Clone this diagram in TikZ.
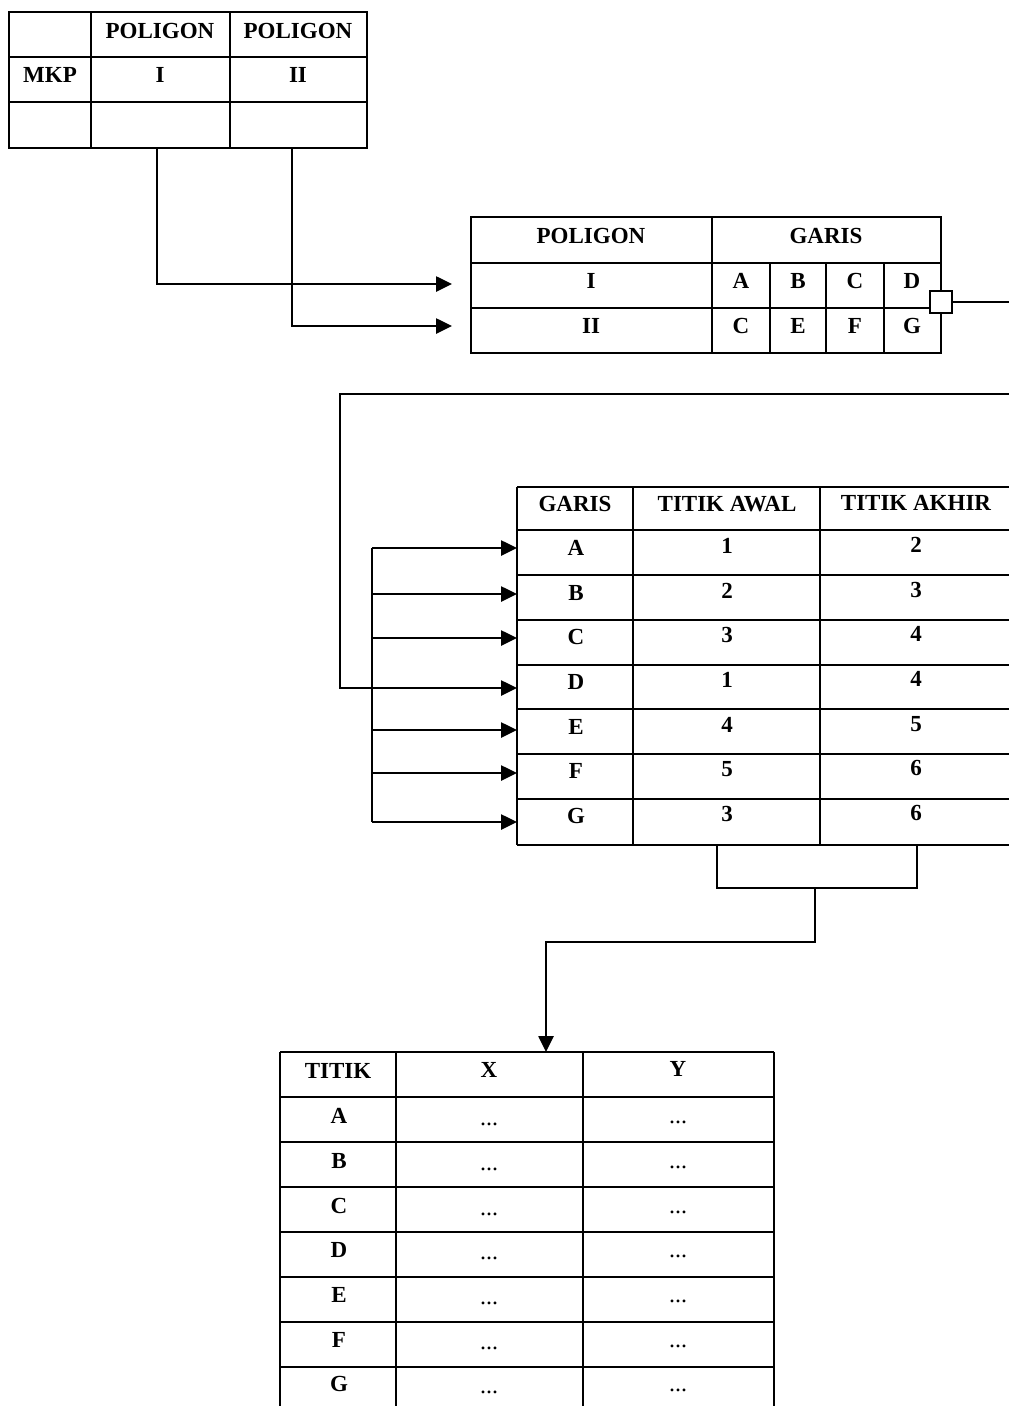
\documentclass[tikz,border=0pt]{standalone}
\usepackage{fontspec}
\setmainfont{Liberation Serif}
\usetikzlibrary{arrows.meta}
\begin{document}
\begin{tikzpicture}[x=1pt,y=-1pt,
  grid/.style={line width=2pt},
  conn/.style={line width=2.6pt},
  tip/.style={conn,-{Triangle[length=16pt,width=15pt]}},
  lbl/.style={font=\fontsize{23}{25}\selectfont\bfseries, inner sep=0pt},
  dots/.style={font=\fontsize{24}{26}\selectfont, inner sep=0pt}]
\useasboundingbox (0,0) rectangle (1009,1406);

% ---------- Table 1 ----------
\draw[grid] (9,12) rectangle (367,148);
\draw[grid] (91,12) -- (91,148) (230,12) -- (230,148)
            (9,57) -- (367,57) (9,102) -- (367,102);
\node[lbl] (t1h1) at (160,31) {POLIGON};
\node[lbl] (t1h2) at (298,31) {POLIGON};
\node[lbl] (t1mkp) at (50,75) {MKP};
\node[lbl] (t1i) at (160,75) {I};
\node[lbl] (t1ii) at (298,75) {II};
\coordinate (t1c1) at (157,148);
\coordinate (t1c2) at (292,148);

% ---------- Table 2 ----------
\draw[grid] (471,217) rectangle (941,353);
\draw[grid] (712,217) -- (712,353) (471,263) -- (941,263) (471,308) -- (941,308)
            (770,263) -- (770,353) (826,263) -- (826,353) (884,263) -- (884,353);
\node[lbl] (t2h1) at (591,236) {POLIGON};
\node[lbl] (t2h2) at (826,236) {GARIS};
\node[lbl] (t2i) at (591,281) {I};
\node[lbl] (t2ii) at (591,326) {II};
\foreach \x/\a/\b [count=\i] in {741/A/C,798/B/E,855/C/F,912/D/G}{
  \node[lbl] (t2a\i) at (\x,281) {\a};
  \node[lbl] (t2b\i) at (\x,326) {\b};
}
\coordinate (t2in1) at (452,284);
\coordinate (t2in2) at (452,326);
\draw[tip] (t1c1) |- (t2in1);
\draw[tip] (t1c2) |- (t2in2);

\node[draw, conn, fill=white, minimum size=22pt, inner sep=0pt] (sq) at (941,302) {};
\coordinate (outR) at (1009,302);
\draw[conn] (sq.east) -- (outR);

% ---------- Table 3 ----------
\foreach \y in {487,530,575,620,665,709,754,799,845}{
  \draw[grid] (517,\y) -- (1009,\y);
}
\draw[grid] (517,487) -- (517,845) (633,487) -- (633,845) (820,487) -- (820,845);
\node[lbl] (t3h1) at (575,504) {GARIS};
\node[lbl] (t3h2) at (727,504) {TITIK AWAL};
\node[lbl] (t3h3) at (916,503) {TITIK AKHIR};
\foreach \g/\a/\b/\y [count=\i] in {A/1/2/548,B/2/3/593,C/3/4/637,D/1/4/682,E/4/5/727,F/5/6/771,G/3/6/816}{
  \node[lbl] (t3g\i) at (576,\y) {\g};
  \node[lbl] (t3a\i) at (727,\y-2) {\a};
  \node[lbl] (t3b\i) at (916,\y-3) {\b};
}

% loop from table 2 into row D
\coordinate (loopR) at (1009,394);
\coordinate (loopL) at (340,394);
\coordinate (inD) at (517,688);
\draw[tip] (loopR) -- (loopL) |- (inD);

% bracket of arrows into every row
\coordinate (brT) at (372,548);
\coordinate (brB) at (372,822);
\draw[conn] (brT) -- (brB);
\foreach \y [count=\i] in {548,594,638,730,773,822}{
  \coordinate (br\i) at (372,\y);
  \coordinate (in\i) at (517,\y);
  \draw[tip] (br\i) -- (in\i);
}

% bracket below table 3
\coordinate (b3a) at (717,845);
\coordinate (b3b) at (917,845);
\coordinate (b3m) at (815,888);
\coordinate (t4in) at (546,1052);
\draw[conn] (b3a) -- (717,888) -- (917,888) -- (b3b);
\draw[tip] (b3m) -- (815,942) -- (546,942) -- (t4in);

% ---------- Table 4 ----------
\foreach \y in {1052,1097,1142,1187,1232,1277,1322,1367}{
  \draw[grid] (280,\y) -- (774,\y);
}
\draw[grid] (280,1052) -- (280,1406) (396,1052) -- (396,1406)
            (583,1052) -- (583,1406) (774,1052) -- (774,1406);
\node[lbl] (t4h1) at (338,1071) {TITIK};
\node[lbl] (t4h2) at (489,1070) {X};
\node[lbl] (t4h3) at (678,1069) {Y};
\foreach \g/\y [count=\i] in {A/1116,B/1161,C/1206,D/1250,E/1295,F/1340,G/1384}{
  \node[lbl] (t4g\i) at (339,\y) {\g};
  \node[dots] (t4x\i) at (489,\y+8) {...};
  \node[dots] (t4y\i) at (678,\y+6) {...};
}
\end{tikzpicture}
\end{document}
